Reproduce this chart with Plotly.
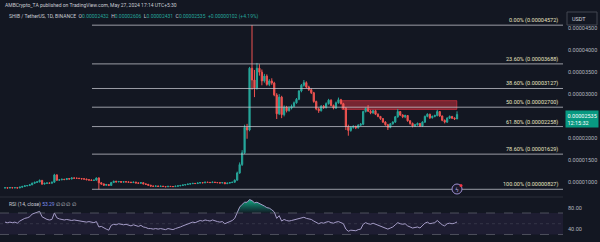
import plotly.graph_objects as go
import pandas as pd

# ---------------- data (prices in micro-USDT, i.e. x 1e-6) ----------------
start_date = "2023-11-26"

opens_e6 = [8.60, 8.62, 8.58, 8.66, 8.60, 8.64, 8.58, 8.75, 8.92, 9.05,
 9.12, 9.30, 9.65, 9.85, 9.95, 10.30, 9.45, 9.62, 9.70, 9.66,
 9.88, 11.55, 10.35, 10.42, 10.55, 10.48, 10.70, 10.62, 10.85, 10.80,
 10.78, 10.72, 10.65, 10.60, 10.45, 10.38, 10.30, 10.35, 10.85, 9.75,
 9.50, 9.20, 9.35, 9.15, 9.80, 10.10, 9.95, 10.05, 9.90, 10.00,
 9.95, 9.88, 9.80, 9.90, 9.72, 9.65, 9.78, 9.50, 9.40, 9.20,
 9.00, 8.95, 9.02, 8.92, 8.98, 8.90, 8.85, 8.95, 8.90, 8.88,
 8.98, 9.05, 9.15, 9.25, 9.35, 9.45, 9.55, 9.62, 9.58, 9.70,
 9.80, 9.75, 9.88, 9.85, 9.80, 9.90, 9.82, 9.78, 9.72, 9.80,
 9.55, 9.68, 9.80, 9.88, 10.35, 12.00, 13.90, 16.60, 22.40, 21.80,
 35.90, 33.20, 31.40, 35.90, 35.00, 33.00, 34.10, 32.20, 33.00, 32.50,
 29.80, 25.50, 29.30, 25.30, 27.00, 26.20, 26.80, 27.20, 28.00, 28.80,
 30.70, 32.00, 32.60, 31.60, 31.00, 30.30, 28.30, 26.60, 26.20, 27.20,
 26.90, 27.80, 28.60, 27.40, 26.80, 28.00, 28.70, 27.80, 26.80, 22.60,
 21.70, 22.40, 22.60, 22.30, 22.90, 23.10, 26.00, 26.70, 26.10, 25.70,
 26.20, 25.40, 24.90, 24.40, 23.60, 23.00, 22.40, 23.20, 23.60, 24.80,
 26.00, 25.20, 24.80, 25.10, 23.90, 23.30, 22.70, 23.00, 23.30, 22.70,
 23.60, 24.90, 25.40, 24.60, 24.90, 25.10, 26.00, 25.00, 24.00, 23.60,
 24.50, 24.90, 24.50, 24.32]

highs_e6 = [8.75, 8.70, 8.78, 8.72, 8.76, 8.70, 8.85, 9.05, 9.20, 9.25,
 9.45, 9.80, 10.00, 10.15, 10.50, 10.40, 9.80, 9.85, 9.80, 10.00,
 11.80, 11.70, 10.60, 10.70, 10.65, 10.85, 10.80, 11.00, 10.95, 10.90,
 10.88, 10.82, 10.75, 10.70, 10.55, 10.50, 10.45, 10.95, 11.00, 9.90,
 9.60, 9.50, 9.45, 9.95, 10.25, 10.20, 10.18, 10.12, 10.10, 10.08,
 10.05, 9.98, 10.00, 9.98, 9.82, 9.90, 9.85, 9.60, 9.48, 9.28,
 9.08, 9.10, 9.08, 9.06, 9.04, 8.98, 9.03, 9.00, 8.97, 9.06,
 9.13, 9.23, 9.33, 9.43, 9.55, 9.65, 9.72, 9.70, 9.80, 9.90,
 9.88, 9.98, 9.95, 9.92, 9.98, 9.96, 9.90, 9.85, 9.88, 9.86,
 9.76, 9.88, 9.96, 10.50, 12.30, 14.40, 17.20, 23.00, 23.20, 36.20,
 45.72, 35.50, 37.10, 36.80, 35.60, 34.60, 34.50, 33.40, 33.60, 32.80,
 30.20, 30.00, 29.60, 27.40, 27.30, 27.20, 27.60, 28.30, 29.10, 30.90,
 32.30, 33.20, 32.90, 31.90, 31.30, 30.50, 28.50, 26.90, 27.50, 27.50,
 28.10, 28.90, 28.80, 27.60, 28.30, 29.20, 28.90, 28.00, 27.00, 23.00,
 22.70, 22.90, 22.80, 23.10, 23.40, 26.20, 26.90, 27.50, 26.40, 26.40,
 26.40, 25.60, 25.00, 24.50, 23.80, 23.20, 23.40, 23.80, 25.00, 26.60,
 26.10, 25.40, 25.30, 25.20, 24.00, 23.50, 23.20, 23.50, 23.40, 23.80,
 25.10, 25.60, 25.50, 25.10, 25.30, 26.40, 26.10, 25.10, 24.20, 24.70,
 25.10, 25.00, 24.70, 26.06]

lows_e6 = [8.50, 8.48, 8.50, 8.52, 8.54, 8.48, 8.52, 8.68, 8.85, 8.98,
 9.05, 9.22, 9.55, 9.75, 9.85, 9.30, 9.38, 9.52, 9.55, 9.58,
 9.80, 10.20, 10.25, 10.35, 10.38, 10.40, 10.50, 10.55, 10.70, 10.68,
 10.62, 10.55, 10.50, 10.35, 10.28, 10.20, 10.22, 10.28, 8.27, 9.30,
 9.05, 9.10, 9.00, 9.08, 9.70, 9.85, 9.88, 9.80, 9.82, 9.86,
 9.78, 9.70, 9.72, 9.62, 9.55, 9.58, 9.40, 9.30, 9.10, 8.90,
 8.85, 8.88, 8.82, 8.85, 8.80, 8.75, 8.78, 8.82, 8.78, 8.82,
 8.90, 8.98, 9.08, 9.18, 9.28, 9.38, 9.48, 9.50, 9.52, 9.62,
 9.66, 9.68, 9.76, 9.72, 9.74, 9.74, 9.70, 9.64, 9.66, 9.45,
 9.48, 9.60, 9.72, 9.80, 10.25, 11.80, 13.60, 16.30, 19.80, 21.50,
 31.00, 29.30, 31.00, 34.20, 32.00, 32.60, 31.90, 31.80, 32.10, 29.50,
 24.30, 25.20, 24.50, 24.90, 25.80, 26.00, 26.50, 27.00, 27.80, 28.60,
 30.40, 31.70, 31.30, 30.70, 30.00, 28.00, 26.30, 25.70, 26.00, 26.60,
 26.70, 27.60, 27.20, 26.50, 26.60, 27.80, 27.60, 26.50, 21.80, 20.50,
 21.40, 22.10, 22.00, 22.10, 22.70, 22.90, 25.80, 25.90, 25.40, 25.50,
 25.20, 24.70, 24.10, 23.40, 22.80, 21.80, 22.20, 23.00, 23.40, 24.60,
 25.00, 24.50, 24.50, 23.70, 23.00, 22.40, 22.50, 22.80, 22.50, 22.50,
 23.40, 24.70, 24.30, 24.40, 24.70, 24.90, 24.80, 23.80, 23.30, 23.40,
 24.30, 24.30, 24.10, 24.31]

closes_e6 = [8.62, 8.58, 8.66, 8.60, 8.64, 8.58, 8.75, 8.92, 9.05, 9.12,
 9.30, 9.65, 9.85, 9.95, 10.30, 9.45, 9.62, 9.70, 9.66, 9.88,
 11.55, 10.35, 10.42, 10.55, 10.48, 10.70, 10.62, 10.85, 10.80, 10.78,
 10.72, 10.65, 10.60, 10.45, 10.38, 10.30, 10.35, 10.85, 9.75, 9.50,
 9.20, 9.35, 9.15, 9.80, 10.10, 9.95, 10.05, 9.90, 10.00, 9.95,
 9.88, 9.80, 9.90, 9.72, 9.65, 9.78, 9.50, 9.40, 9.20, 9.00,
 8.95, 9.02, 8.92, 8.98, 8.90, 8.85, 8.95, 8.90, 8.88, 8.98,
 9.05, 9.15, 9.25, 9.35, 9.45, 9.55, 9.62, 9.58, 9.70, 9.80,
 9.75, 9.88, 9.85, 9.80, 9.90, 9.82, 9.78, 9.72, 9.80, 9.55,
 9.68, 9.80, 9.88, 10.35, 12.00, 13.90, 16.60, 22.40, 21.80, 35.90,
 33.20, 31.40, 35.90, 35.00, 33.00, 34.10, 32.20, 33.00, 32.50, 29.80,
 25.50, 29.30, 25.30, 27.00, 26.20, 26.80, 27.20, 28.00, 28.80, 30.70,
 32.00, 32.60, 31.60, 31.00, 30.30, 28.30, 26.60, 26.20, 27.20, 26.90,
 27.80, 28.60, 27.40, 26.80, 28.00, 28.70, 27.80, 26.80, 22.60, 21.70,
 22.40, 22.60, 22.30, 22.90, 23.10, 26.00, 26.70, 26.10, 25.70, 26.20,
 25.40, 24.90, 24.40, 23.60, 23.00, 22.40, 23.20, 23.60, 24.80, 26.00,
 25.20, 24.80, 25.10, 23.90, 23.30, 22.70, 23.00, 23.30, 22.70, 23.60,
 24.90, 25.40, 24.60, 24.90, 25.10, 26.00, 25.00, 24.00, 23.60, 24.50,
 24.90, 24.50, 24.32, 25.35]

rsi_values = [53, 52, 53, 52, 53, 51, 55, 58, 60, 61,
 63, 68, 70, 71, 73, 63, 60, 58, 57, 58,
 70, 61, 59, 58, 57, 58, 57, 56, 57, 56,
 55, 55, 54, 53, 54, 53, 52, 54, 44, 45,
 42, 40, 38, 47, 49, 48, 50, 49, 48, 49,
 47, 46, 48, 46, 45, 47, 44, 43, 41, 41,
 40, 41, 40, 41, 40, 39, 41, 40, 39, 41,
 42, 44, 46, 48, 50, 51, 53, 52, 54, 56,
 55, 57, 56, 55, 57, 55, 54, 53, 54, 50,
 52, 55, 56, 60, 72, 81, 86, 90, 90, 95,
 93, 89, 90, 88, 85, 83, 80, 79, 76, 72,
 60, 65, 55, 58, 56, 55, 56, 57, 58, 60,
 61, 62, 60, 59, 58, 55, 52, 50, 52, 51,
 53, 54, 52, 51, 53, 54, 52, 50, 40, 36,
 38, 38, 37, 39, 40, 49, 52, 50, 49, 51,
 49, 48, 46, 44, 42, 40, 42, 44, 48, 52,
 50, 49, 50, 46, 44, 42, 43, 44, 42, 46,
 51, 53, 50, 51, 52, 56, 52, 48, 46, 50,
 51, 50, 51, 53.29]

fib_ratios = [0.0, 23.6, 38.6, 50.0, 61.8, 78.6, 100.0]
fib_prices_e6 = [45.72, 36.88, 31.27, 27.00, 22.58, 16.29, 8.27]
fib_anchor_date = "2023-12-31 05:00"

zone_dates = ["2024-04-10 10:00", "2024-05-26 22:00"]
zone_prices_e6 = [26.5, 28.5]

price_ticks_e6 = [10, 15, 20, 25, 30, 35, 40, 45]
rsi_ticks = [40, 80]
rsi_levels = [70, 50, 30]

header_line1 = "AMBCrypto_TA published on TradingView.com, May 27, 2024 17:14 UTC+5:30"
symbol_text = "SHIB / TetherUS, 1D, BINANCE"
ohlc_labels = ["O", "H", "L", "C"]
ohlc_values = ["0.00002432", "0.00002606", "0.00002431", "0.00002535"]
change_text = "+0.00000102 (+4.19%)"
last_price = "0.00002535"
countdown = "12:15:32"

# ---------------- build ----------------
U = 1e-6
dates = pd.date_range(start_date, periods=len(closes_e6), freq="D")
o = [v * U for v in opens_e6]
h = [v * U for v in highs_e6]
l = [v * U for v in lows_e6]
c = [v * U for v in closes_e6]

BG = "#131722"
UP = "#26a69a"
DN = "#ef5350"
TXT = "#c9ccd3"
FONT = "Roboto"

fig = go.Figure()
fig.add_trace(go.Candlestick(
    x=dates, open=o, high=h, low=l, close=c,
    increasing=dict(line=dict(color=UP, width=1), fillcolor=UP),
    decreasing=dict(line=dict(color=DN, width=1), fillcolor=DN),
    whiskerwidth=0, hoverinfo="skip", xaxis="x", yaxis="y", showlegend=False))

# RSI
rsi_top = [max(r, 70) for r in rsi_values]
fig.add_trace(go.Scatter(x=dates, y=[70] * len(dates), mode="lines",
                         line=dict(width=0), xaxis="x", yaxis="y2",
                         showlegend=False, hoverinfo="skip"))
fig.add_trace(go.Scatter(x=dates, y=rsi_top, mode="lines", line=dict(width=0),
                         fill="tonexty",
                         fillgradient=dict(type="vertical", start=70, stop=96,
                                           colorscale=[[0, "rgba(8,153,129,0.05)"],
                                                       [1, "rgba(20,190,140,0.95)"]]),
                         xaxis="x", yaxis="y2", showlegend=False, hoverinfo="skip"))
fig.add_trace(go.Scatter(x=dates, y=rsi_values, mode="lines",
                         line=dict(color="#a59cc8", width=1),
                         xaxis="x", yaxis="y2", showlegend=False, hoverinfo="skip"))

x_start = "2023-11-23 23:25"
x_end = "2024-07-08 21:40"
XD = 563 / 600

shapes = []
annotations = []

# fib lines + labels
for ratio, price in zip(fib_ratios, fib_prices_e6):
    shapes.append(dict(type="line", xref="x", yref="y", x0=fib_anchor_date, x1=x_end,
                       y0=price * U, y1=price * U,
                       line=dict(color="rgba(200,202,210,0.75)", width=1)))
    annotations.append(dict(xref="paper", yref="y", x=559 / 600, y=price * U,
                            xanchor="right", yanchor="bottom", showarrow=False,
                            text=f"{ratio:.2f}% ({price * U:.8f})",
                            font=dict(family=FONT, size=5.5, color="#e6e2c0"),
                            borderpad=0, yshift=0))

# red resistance zone
shapes.append(dict(type="rect", xref="x", yref="y", x0=zone_dates[0], x1=zone_dates[1],
                   y0=zone_prices_e6[0] * U, y1=zone_prices_e6[1] * U,
                   fillcolor="rgba(242,54,69,0.45)",
                   line=dict(color="rgba(242,54,69,0.6)", width=1), layer="below"))

# RSI band and levels
shapes.append(dict(type="rect", xref="paper", yref="y2", x0=0, x1=XD, y0=30, y1=70,
                   fillcolor="rgba(126,87,194,0.10)", line=dict(width=0), layer="below"))
for lv in rsi_levels:
    shapes.append(dict(type="line", xref="paper", yref="y2", x0=0, x1=XD, y0=lv, y1=lv,
                       line=dict(color="rgba(120,123,134,0.55)" if lv != 50 else "rgba(120,123,134,0.25)",
                                 width=1, dash="dash" if lv != 50 else "dot")))

# pane separator
shapes.append(dict(type="line", xref="paper", yref="paper", x0=0, x1=XD,
                   y0=1 - 197 / 242, y1=1 - 197 / 242, line=dict(color="#2a2e39", width=1)))

# USDT box
shapes.append(dict(type="rect", xref="paper", yref="paper", x0=567 / 600, x1=597 / 600,
                   y0=1 - 25 / 242, y1=1 - 12 / 242, line=dict(color="#434651", width=1),
                   fillcolor=BG))
annotations.append(dict(xref="paper", yref="paper", x=570 / 600, y=1 - 18.5 / 242,
                        xanchor="left", yanchor="middle", showarrow=False, text="USDT",
                        font=dict(family=FONT, size=5.5, color="#d1d4dc")))

# last price tag
annotations.append(dict(xref="paper", yref="paper", x=565 / 600, y=1 - 110 / 242,
                        xanchor="left", yanchor="top", showarrow=False,
                        text=f"{last_price}<br>{countdown}", align="left",
                        bgcolor="#089981", borderpad=1.5,
                        font=dict(family=FONT, size=5.5, color="#ffffff")))

# event icon
shapes.append(dict(type="circle", xref="paper", yref="paper",
                   x0=452 / 600, x1=462 / 600, y0=1 - 194 / 242, y1=1 - 184 / 242,
                   line=dict(color="#9d8fd0", width=1), fillcolor="#1c1a2c"))
shapes.append(dict(type="circle", xref="paper", yref="paper",
                   x0=459.5 / 600, x1=462.5 / 600, y0=1 - 187 / 242, y1=1 - 184 / 242,
                   line=dict(width=0), fillcolor="#f23645"))
annotations.append(dict(xref="paper", yref="paper", x=457 / 600, y=1 - 189 / 242,
                        xanchor="center", yanchor="middle", showarrow=False, text="ϟ",
                        font=dict(family="DejaVu Sans", size=6, color="#b8aee0")))

# header
annotations.append(dict(xref="paper", yref="paper", x=3 / 600, y=1 - 5 / 242,
                        xanchor="left", yanchor="middle", showarrow=False, text=header_line1,
                        font=dict(family=FONT, size=5, color=TXT)))
parts = [f'<span style="color:{TXT}">{symbol_text}</span>&nbsp;&nbsp;']
for lab, val in zip(ohlc_labels, ohlc_values):
    parts.append(f'<span style="color:{TXT}">{lab}</span><span style="color:{UP}">{val}</span>&nbsp;&nbsp;')
parts.append(f'<span style="color:{UP}">{change_text}</span>')
annotations.append(dict(xref="paper", yref="paper", x=7 / 600, y=1 - 16 / 242,
                        xanchor="left", yanchor="middle", showarrow=False, text="".join(parts),
                        font=dict(family=FONT, size=5, color=TXT)))

# RSI label
annotations.append(dict(xref="paper", yref="paper", x=7 / 600, y=1 - 204 / 242,
                        xanchor="left", yanchor="middle", showarrow=False,
                        text=f'<span style="color:{TXT}">RSI (14, close)</span> '
                             f'<span style="color:#7e8ef0">{rsi_values[-1]:.2f}</span> '
                             f'<span style="color:{TXT}">∅ ∅ ∅ ∅</span>',
                        font=dict(family=FONT, size=5, color=TXT)))

fig.update_layout(
    width=600, height=242, margin=dict(l=0, r=0, t=0, b=0),
    paper_bgcolor=BG, plot_bgcolor=BG,
    showlegend=False, hovermode=False,
    xaxis=dict(type="date", domain=[0, XD], range=[x_start, x_end], anchor="y",
               showgrid=False, zeroline=False, showticklabels=False, showline=False,
               rangeslider=dict(visible=False), fixedrange=True),
    yaxis=dict(domain=[1 - 197 / 242, 1], range=[6.51e-6, 51.46e-6], side="right",
               anchor="x", showgrid=False, zeroline=False, showline=False,
               tickvals=[t * U for t in price_ticks_e6],
               ticktext=[f"{t * U:.8f}" for t in price_ticks_e6],
               ticks="", ticklabelstandoff=4,
               tickfont=dict(family=FONT, size=5.5, color="#b2b5be")),
    yaxis2=dict(domain=[0, 44 / 242], range=[16.0, 97.9], side="right", anchor="x",
                showgrid=False, zeroline=False, showline=False,
                tickvals=rsi_ticks, ticktext=[f"{t:.2f}" for t in rsi_ticks],
                ticks="", ticklabelstandoff=4,
                tickfont=dict(family=FONT, size=5.5, color="#b2b5be")),
    shapes=shapes, annotations=annotations,
)

fig.write_html("out.html")
